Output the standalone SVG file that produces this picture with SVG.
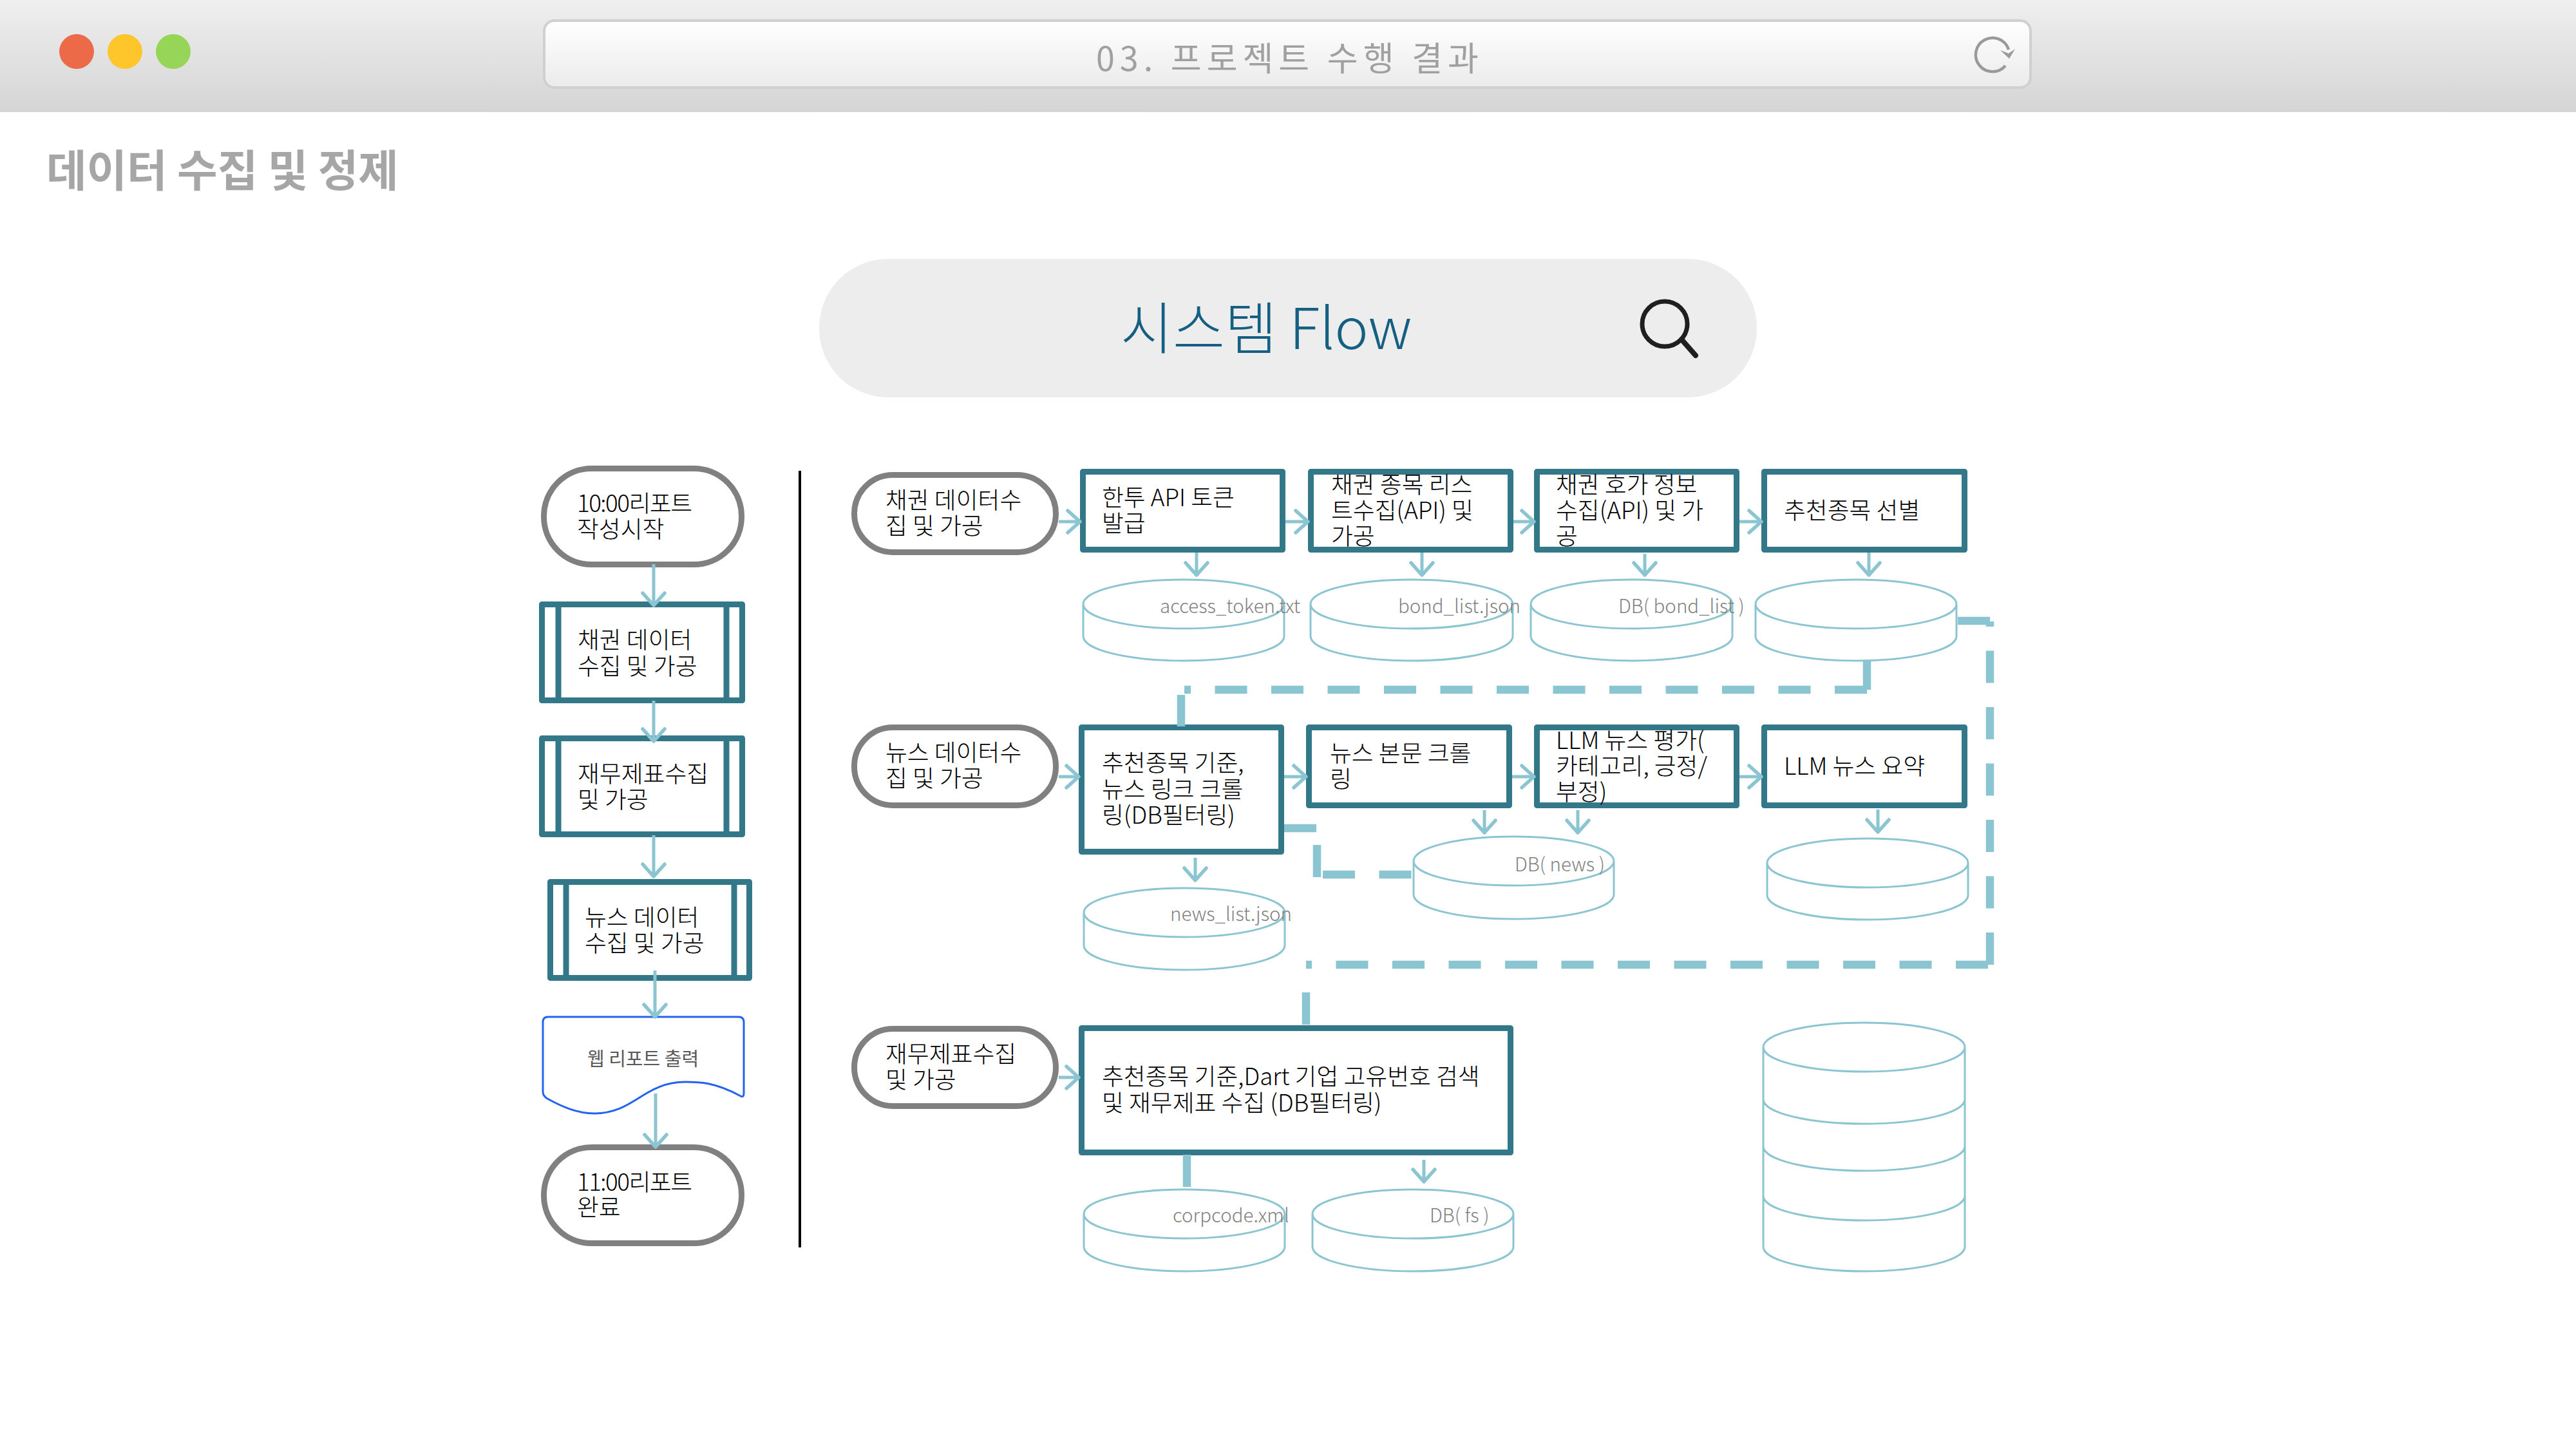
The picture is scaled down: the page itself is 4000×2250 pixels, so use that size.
<svg xmlns="http://www.w3.org/2000/svg" width="4000" height="2250" viewBox="0 0 4000 2250">
<defs>
<linearGradient id="hdr" x1="0" y1="0" x2="0" y2="1"><stop offset="0" stop-color="#efefef"/><stop offset="1" stop-color="#d5d5d5"/></linearGradient>
<linearGradient id="bar" x1="0" y1="0" x2="0" y2="1"><stop offset="0" stop-color="#ffffff"/><stop offset="1" stop-color="#ebebeb"/></linearGradient>
<marker id="ah" markerUnits="userSpaceOnUse" markerWidth="40" markerHeight="50" refX="24" refY="25" orient="auto" overflow="visible"><path d="M5 8L24 25L5 42" fill="none" stroke="#8bc5d2" stroke-width="5.500" stroke-linecap="round" stroke-linejoin="round"/></marker>
<style>
text{font-family:"Noto Sans CJK KR","Noto Sans",sans-serif}
.t{font-size:36.800px;fill:#000;font-weight:300}
.c{font-size:29.500px;fill:#7f7f7f;font-weight:300}
.pill{fill:#fff;stroke:#808080;stroke-width:9}
.box{fill:#fff;stroke:#327888;stroke-width:9;stroke-linejoin:round}
.bar{fill:none;stroke:#327888;stroke-width:9}
.cyl{fill:#fff;stroke:#8bc5d2;stroke-width:3}
.arr{fill:none;stroke:#8bc5d2;stroke-width:5;marker-end:url(#ah)}
.dash{fill:none;stroke:#8bc5d2;stroke-width:12.500;stroke-dasharray:50 37.500}
</style>
</defs>
<rect width="4000" height="2250" fill="#fff"/>
<g id="window-bar">
<rect width="4000" height="174" fill="url(#hdr)"/>
<circle cx="119" cy="80" r="27" fill="#ec6a48"/>
<circle cx="194" cy="80" r="27" fill="#fec62a"/>
<circle cx="269" cy="80" r="27" fill="#97d559"/>
<rect x="845" y="32" width="2308" height="104" rx="16" fill="url(#bar)" stroke="#d0d0d0" stroke-width="4"/>
<text x="1702" y="110" font-size="52" letter-spacing="8" fill="#a0a0a0">03. 프로젝트 수행 결과</text>
<path d="M3119 77A26.200 26.200 0 1 0 3114 102" fill="none" stroke="#9a9a9a" stroke-width="4.500"/>
<path d="M3106 78L3119 83L3129 76L3120 91Z" fill="#9a9a9a"/>
</g>
<text id="page-title" x="72" y="290" font-size="68" font-weight="700" fill="#a6a6a6">데이터 수집 및 정제</text>
<g id="search">
<rect x="1272" y="402" width="1456" height="215" rx="107" fill="#ededed"/>
<text x="1740" y="542" font-size="88" fill="#156082" style="font-weight:300">시스템 Flow</text>
<circle cx="2585" cy="503" r="35" fill="none" stroke="#1f1f1f" stroke-width="7"/>
<path d="M2611 527L2633 552" stroke="#1f1f1f" stroke-width="8" stroke-linecap="round"/>
</g>
<path id="divider" d="M1242 731V1937" stroke="#000" stroke-width="4" fill="none"/>

<g id="n-start"><rect class="pill" x="844.500" y="727.500" width="307" height="149" rx="74"/><text class="t"><tspan x="896" y="795" textLength="179">10:00리포트</tspan><tspan x="896" y="835">작성시작</tspan></text></g>
<g id="n-bond-sub"><rect class="box" x="841.500" y="938.500" width="311" height="149"/><path class="bar" d="M867 938V1088M1128 938V1088"/><text class="t"><tspan x="897" y="1007">채권 데이터</tspan><tspan x="897" y="1048">수집 및 가공</tspan></text></g>
<g id="n-fin-sub"><rect class="box" x="841.500" y="1146.500" width="311" height="149"/><path class="bar" d="M867 1146V1296M1128 1146V1296"/><text class="t"><tspan x="897" y="1215">재무제표수집</tspan><tspan x="897" y="1255">및 가공</tspan></text></g>
<g id="n-news-sub"><rect class="box" x="854.500" y="1369.500" width="309" height="149"/><path class="bar" d="M879 1369V1519M1140 1369V1519"/><text class="t"><tspan x="908" y="1438">뉴스 데이터</tspan><tspan x="908" y="1478">수집 및 가공</tspan></text></g>
<g id="n-report"><path d="M851 1579H1147Q1155 1579 1155 1587V1697Q1155 1705 1150 1702C1110 1680 1085 1680 1064 1680C1000 1680 985 1729 923 1729C895 1729 870 1717 850 1706Q843 1702 843 1695V1587Q843 1579 851 1579Z" fill="#fff" stroke="#2264f0" stroke-width="3"/><text x="912" y="1655" font-size="29" fill="#595959">웹 리포트 출력</text></g>
<g id="n-end"><rect class="pill" x="844.500" y="1781.500" width="307" height="149" rx="74"/><text class="t"><tspan x="896" y="1849" textLength="179">11:00리포트</tspan><tspan x="896" y="1888">완료</tspan></text></g>

<g id="n-p1"><rect class="pill" x="1326.500" y="737.500" width="313" height="120" rx="60"/><text class="t"><tspan x="1375" y="790">채권 데이터수</tspan><tspan x="1375" y="830">집 및 가공</tspan></text></g>
<g id="n-p2"><rect class="pill" x="1326.500" y="1129.500" width="313" height="121" rx="60"/><text class="t"><tspan x="1375" y="1182">뉴스 데이터수</tspan><tspan x="1375" y="1222">집 및 가공</tspan></text></g>
<g id="n-p3"><rect class="pill" x="1326.500" y="1597.500" width="313" height="120" rx="60"/><text class="t"><tspan x="1375" y="1650">재무제표수집</tspan><tspan x="1375" y="1690">및 가공</tspan></text></g>

<g id="n-a1"><rect class="box" x="1681.500" y="732.500" width="310" height="121"/><text class="t"><tspan x="1711" y="786">한투 API 토큰</tspan><tspan x="1711" y="826">발급</tspan></text></g>
<g id="n-a2"><rect class="box" x="2035.500" y="732.500" width="310" height="121"/><text class="t"><tspan x="2067" y="766">채권 종목 리스</tspan><tspan x="2067" y="806">트수집(API) 및</tspan><tspan x="2067" y="846">가공</tspan></text></g>
<g id="n-a3"><rect class="box" x="2386.500" y="732.500" width="310" height="121"/><text class="t"><tspan x="2416" y="766">채권 호가 정보</tspan><tspan x="2416" y="806">수집(API) 및 가</tspan><tspan x="2416" y="846">공</tspan></text></g>
<g id="n-a4"><rect class="box" x="2739.500" y="732.500" width="311" height="121"/><text class="t" x="2770" y="806">추천종목 선별</text></g>

<g id="n-b1"><rect class="box" x="1679.500" y="1129.500" width="310" height="193"/><text class="t"><tspan x="1711" y="1198">추천종목 기준,</tspan><tspan x="1711" y="1239">뉴스 링크 크롤</tspan><tspan x="1711" y="1279">링(DB필터링)</tspan></text></g>
<g id="n-b2"><rect class="box" x="2032.500" y="1129.500" width="311" height="121"/><text class="t"><tspan x="2065" y="1183">뉴스 본문 크롤</tspan><tspan x="2065" y="1223">링</tspan></text></g>
<g id="n-b3"><rect class="box" x="2386.500" y="1129.500" width="310" height="121"/><text class="t"><tspan x="2416" y="1163">LLM 뉴스 평가(</tspan><tspan x="2416" y="1203">카테고리, 긍정/</tspan><tspan x="2416" y="1243">부정)</tspan></text></g>
<g id="n-b4"><rect class="box" x="2739.500" y="1129.500" width="311" height="121"/><text class="t" x="2770" y="1203">LLM 뉴스 요약</text></g>
<g id="n-c1"><rect class="box" x="1679.500" y="1596.500" width="666" height="193"/><text class="t"><tspan x="1711" y="1685">추천종목 기준,Dart 기업 고유번호 검색</tspan><tspan x="1711" y="1726">및 재무제표 수집 (DB필터링)</tspan></text></g>

<g id="db-token"><path class="cyl" d="M1682 938V988A156 38 0 0 0 1994 988V938A156 38 0 0 0 1682 938A156 38 0 0 0 1994 938"/><text class="c" x="1801" y="952">access_token.txt</text></g>
<g id="db-bond"><path class="cyl" d="M2035 938V988A157 38 0 0 0 2349 988V938A157 38 0 0 0 2035 938A157 38 0 0 0 2349 938"/><text class="c" x="2171" y="952">bond_list.json</text></g>
<g id="db-bondlist"><path class="cyl" d="M2377 938V988A156.500 38 0 0 0 2690 988V938A156.500 38 0 0 0 2377 938A156.500 38 0 0 0 2690 938"/><text class="c" x="2513" y="952">DB( bond_list )</text></g>
<g id="db-rec"><path class="cyl" d="M2726 938V988A156 38 0 0 0 3038 988V938A156 38 0 0 0 2726 938A156 38 0 0 0 3038 938"/></g>
<g id="db-newslist"><path class="cyl" d="M1683 1417V1468A156 38 0 0 0 1995 1468V1417A156 38 0 0 0 1683 1417A156 38 0 0 0 1995 1417"/><text class="c" x="1817" y="1430">news_list.json</text></g>
<g id="db-news"><path class="cyl" d="M2195 1337V1389A155.500 38 0 0 0 2506 1389V1337A155.500 38 0 0 0 2195 1337A155.500 38 0 0 0 2506 1337"/><text class="c" x="2352" y="1353">DB( news )</text></g>
<g id="db-summary"><path class="cyl" d="M2744 1340V1390A156 38 0 0 0 3056 1390V1340A156 38 0 0 0 2744 1340A156 38 0 0 0 3056 1340"/></g>
<g id="db-corp"><path class="cyl" d="M1683 1885V1936A156 38 0 0 0 1995 1936V1885A156 38 0 0 0 1683 1885A156 38 0 0 0 1995 1885"/><text class="c" x="1821" y="1898">corpcode.xml</text></g>
<g id="db-fs"><path class="cyl" d="M2038 1885V1936A156 38 0 0 0 2350 1936V1885A156 38 0 0 0 2038 1885A156 38 0 0 0 2350 1885"/><text class="c" x="2220" y="1898">DB( fs )</text></g>
<g id="db-stack"><path class="cyl" d="M2738 1626V1936A156.500 38 0 0 0 3051 1936V1626A156.500 38 0 0 0 2738 1626A156.500 38 0 0 0 3051 1626M2738 1707A156.500 38 0 0 0 3051 1707M2738 1780A156.500 38 0 0 0 3051 1780M2738 1857A156.500 38 0 0 0 3051 1857"/></g>

<g id="connectors">
<path class="arr" d="M1015 876V940"/><path class="arr" d="M1015 1088V1151"/><path class="arr" d="M1015 1297V1361"/><path class="arr" d="M1017 1507V1579"/><path class="arr" d="M1018 1698V1781"/>
<path class="arr" d="M1644 810H1677"/><path class="arr" d="M1996 810H2031"/><path class="arr" d="M2350 810H2382"/><path class="arr" d="M2701 810H2735"/>
<path class="arr" d="M1858 858V893"/><path class="arr" d="M2208 858V893"/><path class="arr" d="M2554 860V893"/><path class="arr" d="M2902 858V893"/>
<path class="arr" d="M1644 1206H1675"/><path class="arr" d="M1994 1206H2028"/><path class="arr" d="M2348 1206H2382"/><path class="arr" d="M2701 1206H2735"/>
<path class="arr" d="M1856 1332V1367"/><path class="arr" d="M2305 1258V1293"/><path class="arr" d="M2450 1258V1293"/><path class="arr" d="M2916 1257V1292"/>
<path class="arr" d="M1644 1673H1675"/><path class="arr" d="M2211 1801V1835"/>
<path class="dash" d="M2899 1026V1071M2899 1071H1839M1834 1079V1128"/>
<path class="dash" d="M3040 964H3090M3090 1498V965M3087 1498H2028M2028 1541V1596"/>
<path class="dash" d="M1994 1286H2045M2045 1312V1362M2054 1358H2192"/>
<path class="dash" d="M1843 1793V1843"/>
</g>
</svg>
